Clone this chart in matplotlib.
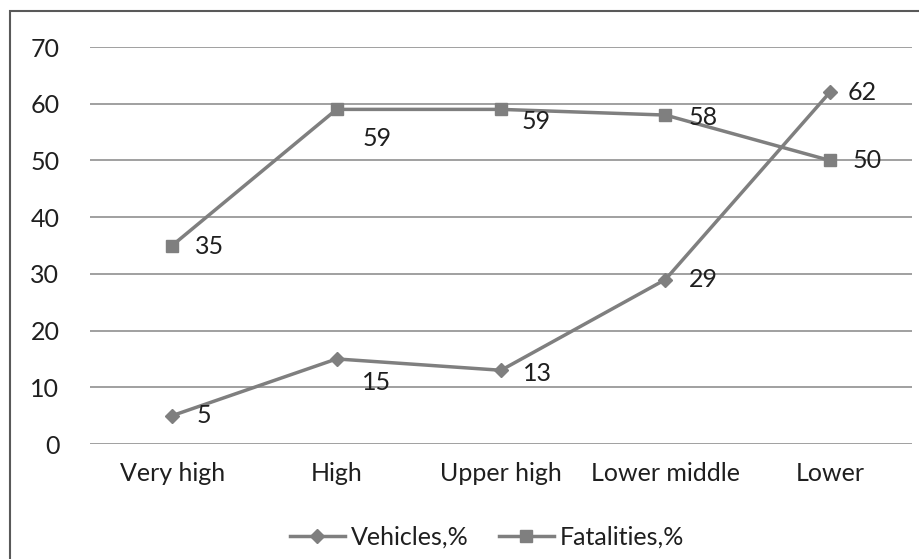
import matplotlib.pyplot as plt
from matplotlib.patches import Rectangle

# income groups and the two series (percent)
groups = ['Very high', 'High', 'Upper high', 'Lower middle', 'Lower']
vehicles = [5, 15, 13, 29, 62]
fatalities = [35, 59, 59, 58, 50]

# label offsets in points (dx, dy) so the numbers sit clear of the lines
veh_offsets = [(23, 0), (29, -17), (26, -2), (27, 0), (23, 0)]
fat_offsets = [(27, -1), (29, -21), (25, -9), (27, -2), (27, 0)]

LINE = '#7f7f7f'
TEXT = '#1f1f1f'
GRID = '#a0a0a0'
FS = 18

plt.rcParams['font.family'] = ['Lato', 'DejaVu Sans']

W, H = 919, 559
fig = plt.figure(figsize=(W / 100, H / 100), dpi=100)
ax = fig.add_axes([90 / W, (H - 444) / H, (912 - 90) / W, (444 - 47) / H])

x = list(range(len(groups)))
ax.plot(x, vehicles, color=LINE, lw=2.5, marker='D', ms=7,
        label='Vehicles,%', zorder=3)
ax.plot(x, fatalities, color=LINE, lw=2.5, marker='s', ms=8,
        label='Fatalities,%', zorder=3)

for xi, v, off in zip(x, vehicles, veh_offsets):
    ax.annotate(str(v), (xi, v), xytext=off, textcoords='offset points',
                ha='center', va='center', fontsize=FS, color=TEXT)
for xi, v, off in zip(x, fatalities, fat_offsets):
    ax.annotate(str(v), (xi, v), xytext=off, textcoords='offset points',
                ha='center', va='center', fontsize=FS, color=TEXT)

ax.set_xlim(-0.5, len(groups) - 0.5)
ax.set_ylim(0, 70)
ax.set_yticks(range(0, 71, 10))
ax.set_xticks(x)
ax.set_xticklabels(groups)
ax.yaxis.grid(True, color=GRID, lw=1.4)
ax.set_axisbelow(True)
for s in ax.spines.values():
    s.set_visible(False)
ax.tick_params(length=0, labelsize=FS, colors=TEXT)
ax.tick_params(axis='y', pad=22)
ax.tick_params(axis='x', pad=13)

leg = fig.legend(loc='center', bbox_to_anchor=(487 / W, (H - 537) / H), ncol=2,
                 frameon=False, fontsize=FS, handlelength=2.2,
                 columnspacing=1.2, handletextpad=0.25)
for t in leg.get_texts():
    t.set_color(TEXT)

# outer chart border, open at the right and bottom edges
fig.patches.append(Rectangle((10 / W, -0.1), 1.2, 1.1 - 11 / H,
                             transform=fig.transFigure, fill=False,
                             edgecolor='#595959', lw=1.5))

fig.savefig('out.png', dpi=100, facecolor='white')
